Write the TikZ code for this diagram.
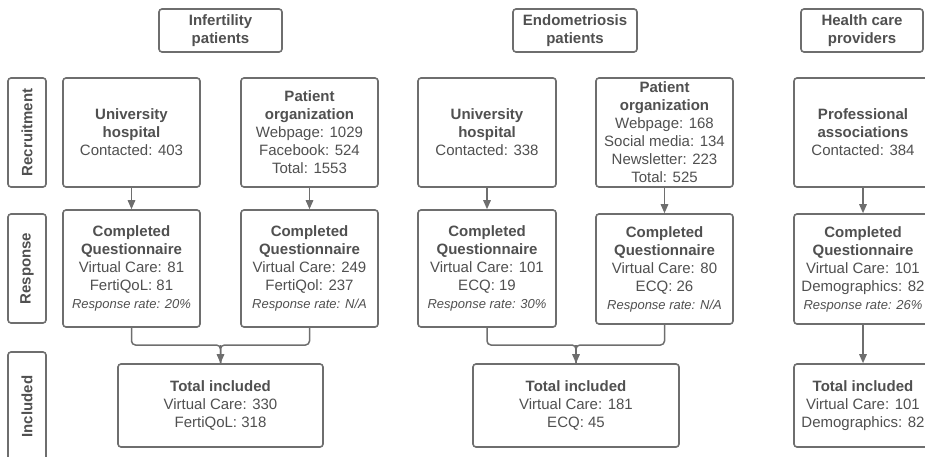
\documentclass[tikz,border=0pt]{standalone}
\usepackage{fontspec}
\setmainfont{Liberation Sans}
\usetikzlibrary{arrows.meta}
\definecolor{tc}{HTML}{505050}
\definecolor{lc}{HTML}{6E6E6E}
\tikzset{
  box/.style={draw=lc, line width=1.6pt, rounded corners=3pt, fill=white, align=center,
    inner sep=2pt, text=tc, font=\fontsize{15}{18}\selectfont},
  sidelbl/.style={box, rotate=90, minimum width=109pt, minimum height=38pt},
  arr/.style={draw=lc, line width=1.5pt, -{Triangle[length=9pt,width=7.5pt]}},
  link/.style={draw=lc, line width=1.5pt, rounded corners=4pt},
}
\newcommand{\rr}[1]{{\fontsize{13}{16}\selectfont\itshape #1}}
\begin{document}
\begin{tikzpicture}[x=1pt,y=-1pt]
\useasboundingbox (0,0) rectangle (925,457);
% headers
\node[box, minimum width=123, minimum height=43] (h1) at (220.5,30.5) {\textbf{Infertility}\\\textbf{patients}};
\node[box, minimum width=124, minimum height=43] (h2) at (575,30.5) {\textbf{Endometriosis}\\\textbf{patients}};
\node[box, minimum width=122, minimum height=43] (h3) at (862,30.5) {\textbf{Health care}\\\textbf{providers}};
% side labels
\node[sidelbl] (l1) at (27,132.5) {\textbf{Recruitment}};
\node[sidelbl] (l2) at (27,268.5) {\textbf{Response}};
\node[sidelbl] (l3) at (27,406.5) {\textbf{Included}};
% row 1
\node[box, minimum width=137, minimum height=109] (a1) at (131.5,132.5) {\textbf{University}\\\textbf{hospital}\\Contacted: 403};
\node[box, minimum width=137, minimum height=109] (a2) at (309.5,132.5) {\textbf{Patient}\\\textbf{organization}\\Webpage: 1029\\Facebook: 524\\Total: 1553};
\node[box, minimum width=138, minimum height=109] (a3) at (487,132.5) {\textbf{University}\\\textbf{hospital}\\Contacted: 338};
\node[box, minimum width=137, minimum height=109] (a4) at (664.5,132.5) {\textbf{Patient}\\\textbf{organization}\\Webpage: 168\\Social media: 134\\Newsletter: 223\\Total: 525};
\node[box, minimum width=138, minimum height=109] (a5) at (863,132.5) {\textbf{Professional}\\\textbf{associations}\\Contacted: 384};
% row 2
\node[box, minimum width=137, minimum height=117] (b1) at (131.5,268.5) {\textbf{Completed}\\\textbf{Questionnaire}\\Virtual Care: 81\\FertiQoL: 81\\\rr{Response rate: 20\%}};
\node[box, minimum width=137, minimum height=117] (b2) at (309.5,268.5) {\textbf{Completed}\\\textbf{Questionnaire}\\Virtual Care: 249\\FertiQol: 237\\\rr{Response rate: N/A}};
\node[box, minimum width=138, minimum height=117] (b3) at (487,268.5) {\textbf{Completed}\\\textbf{Questionnaire}\\Virtual Care: 101\\ECQ: 19\\\rr{Response rate: 30\%}};
\node[box, minimum width=137, minimum height=110] (b4) at (664.5,269) {\textbf{Completed}\\\textbf{Questionnaire}\\Virtual Care: 80\\ECQ: 26\\\rr{Response rate: N/A}};
\node[box, minimum width=138, minimum height=110] (b5) at (863,269) {\textbf{Completed}\\\textbf{Questionnaire}\\Virtual Care: 101\\Demographics: 82\\\rr{Response rate: 26\%}};
% row 3
\node[box, minimum width=205, minimum height=83] (c1) at (220.5,405.5) {\textbf{Total included}\\Virtual Care: 330\\FertiQoL: 318};
\node[box, minimum width=206, minimum height=83] (c2) at (576,405.5) {\textbf{Total included}\\Virtual Care: 181\\ECQ: 45};
\node[box, minimum width=138, minimum height=83] (c3) at (863,405.5) {\textbf{Total included}\\Virtual Care: 101\\Demographics: 82};
% connectors
\draw[arr] (a1) -- (b1);
\draw[arr] (a2) -- (b2);
\draw[arr] (a3) -- (b3);
\draw[arr] (a4) -- (b4);
\draw[arr] (a5) -- (b5);
\draw[arr] (b5) -- (c3);
\coordinate (m1) at (220.5,345);
\coordinate (m2) at (576,345);
\draw[link] (b1.south) |- (m1) -- (c1.north);
\draw[link] (b2.south) |- (m1) -- (c1.north);
\draw[arr] (m1) -- (c1.north);
\draw[link] (b3.south) |- (m2) -- (c2.north);
\draw[link] (b4.south) |- (m2) -- (c2.north);
\draw[arr] (m2) -- (c2.north);
\end{tikzpicture}
\end{document}
